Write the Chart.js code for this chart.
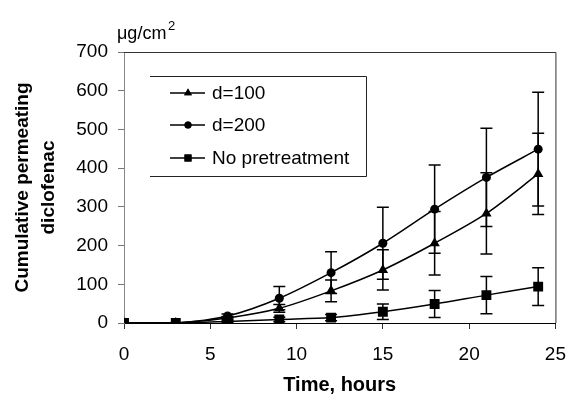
<!DOCTYPE html>
<html>
<head>
<meta charset="utf-8">
<script src="https://cdn.jsdelivr.net/npm/chart.js@4.4.1/dist/chart.umd.min.js"></script>
<style>
  html, body { margin: 0; padding: 0; background: #fff; }
  #wrap { width: 580px; height: 400px; position: relative; }
</style>
</head>
<body>
<div id="wrap"><canvas id="chart"></canvas></div>
<script>
// Values (µg/cm², mean and SD)
const hours = [0, 3, 6, 9, 12, 15, 18, 21, 24];
const d100 = [0, 0, 13, 38, 83, 137, 206, 283, 385];
const d100Err = [0, 0, 4, 10, 28, 52, 82, 105, 105];
const d200 = [0, 0, 18, 64, 130, 206, 294, 376, 449];
const d200Err = [0, 0, 5, 30, 54, 93, 114, 127, 147];
const noPre = [0, 0, 4, 9, 14, 29, 49, 72, 94];
const noPreErr = [0, 0, 2, 6, 8, 20, 35, 48, 49];

const seriesLabels = ['d=100', 'd=200', 'No pretreatment'];
const xTicks = [0, 5, 10, 15, 20, 25];
const yTicks = [0, 100, 200, 300, 400, 500, 600, 700];

const FONT = '"Liberation Sans", Arial, sans-serif';

function toPoints(values) {
    return values.map((v, i) => ({ x: hours[i], y: v }));
}

// vertical error bars with caps, drawn under the markers
const errorBars = {
    id: 'errorBars',
    beforeDatasetsDraw(chart) {
        const { ctx, scales: { x, y } } = chart;
        ctx.save();
        ctx.strokeStyle = '#000';
        ctx.lineWidth = 1.5;
        chart.data.datasets.forEach(ds => {
            ds.data.forEach((p, j) => {
                const e = ds.errors[j];
                if (!e) return;
                const px = x.getPixelForValue(p.x);
                const top = y.getPixelForValue(p.y + e);
                const bot = y.getPixelForValue(Math.max(0, p.y - e));
                ctx.beginPath();
                ctx.moveTo(px, top); ctx.lineTo(px, bot);
                ctx.moveTo(px - 6, top); ctx.lineTo(px + 6, top);
                ctx.moveTo(px - 6, bot); ctx.lineTo(px + 6, bot);
                ctx.stroke();
            });
        });
        ctx.restore();
    }
};

// plot frame, legend box and unit label
const decorations = {
    id: 'decorations',
    afterDraw(chart) {
        const { ctx, chartArea: a } = chart;
        ctx.save();
        ctx.lineWidth = 1;
        ctx.strokeStyle = '#333';
        ctx.beginPath();
        ctx.moveTo(a.left, a.top + 0.5); ctx.lineTo(a.right + 0.5, a.top + 0.5);
        ctx.lineTo(a.right + 0.5, a.bottom);
        ctx.stroke();

        // legend (open on the left like the original)
        const lx = 150, ly = 76.5, rx = 366.5, by = 176.5;
        ctx.strokeStyle = '#222';
        ctx.beginPath();
        ctx.moveTo(lx, ly); ctx.lineTo(rx, ly); ctx.lineTo(rx, by); ctx.lineTo(lx, by);
        ctx.stroke();
        const rows = [93, 125, 158];
        const styles = ['triangle', 'circle', 'rect'];
        const radii = [4.5, 3.5, 5];
        ctx.font = '19px ' + FONT;
        ctx.textBaseline = 'middle';
        ctx.fillStyle = '#000';
        seriesLabels.forEach((label, i) => {
            const yy = rows[i];
            ctx.strokeStyle = '#000';
            ctx.lineWidth = 1.5;
            ctx.beginPath();
            ctx.moveTo(170, yy); ctx.lineTo(205, yy);
            ctx.stroke();
            Chart.helpers.drawPoint(ctx, { pointStyle: styles[i], radius: radii[i], borderWidth: 0 }, 188, yy);
            ctx.fill();
            ctx.fillText(label, 212, yy + 1);
        });

        // unit label
        ctx.font = '18px ' + FONT;
        ctx.textBaseline = 'alphabetic';
        ctx.fillText('\u03bcg/cm', 117, 39);
        ctx.font = '13px ' + FONT;
        ctx.fillText('2', 168, 30);
        ctx.restore();
    }
};

const mk = (label, values, errs, style, radius) => ({
    label,
    data: toPoints(values),
    errors: errs,
    borderColor: '#000',
    backgroundColor: '#000',
    borderWidth: 1.5,
    pointStyle: style,
    pointRadius: radius,
    pointBorderWidth: 0,
    tension: 0.3
});

new Chart(document.getElementById('chart'), {
    type: 'line',
    data: {
        datasets: [
            mk(seriesLabels[0], d100, d100Err, 'triangle', 6),
            mk(seriesLabels[1], d200, d200Err, 'circle', 4.5),
            mk(seriesLabels[2], noPre, noPreErr, 'rect', 7)
        ]
    },
    options: {
        responsive: true,
        maintainAspectRatio: false,
        animation: false,
        layout: { padding: { top: 52, right: 13, bottom: 0, left: 0 } },
        plugins: {
            legend: { display: false },
            tooltip: { enabled: false }
        },
        scales: {
            x: {
                type: 'linear',
                min: 0, max: 25,
                afterFit(scale) { scale.height = 77; },
                afterBuildTicks(scale) { scale.ticks = xTicks.map(v => ({ value: v })); },
                grid: { drawOnChartArea: false, color: '#333', tickLength: 6 },
                border: { color: '#000', width: 1 },
                ticks: { color: '#000', font: { family: FONT, size: 19 }, padding: 14, maxRotation: 0 },
                title: {
                    display: true, text: 'Time, hours', color: '#000',
                    font: { family: FONT, size: 20, weight: 'bold' },
                    padding: { top: 0, bottom: 3 }
                }
            },
            y: {
                min: 0, max: 700,
                afterFit(scale) { scale.width = 124; },
                afterBuildTicks(scale) { scale.ticks = yTicks.map(v => ({ value: v })); },
                grid: { drawOnChartArea: false, color: '#777', tickLength: 6 },
                border: { color: '#888', width: 1 },
                ticks: { color: '#000', font: { family: FONT, size: 19 }, padding: 10 },
                title: {
                    display: true,
                    text: ['Cumulative permeating', 'diclofenac'],
                    color: '#000',
                    font: { family: FONT, size: 19, weight: 'bold', lineHeight: 1.37 },
                    padding: { top: 10, bottom: 0 }
                }
            }
        }
    },
    plugins: [errorBars, decorations]
});
</script>
</body>
</html>
